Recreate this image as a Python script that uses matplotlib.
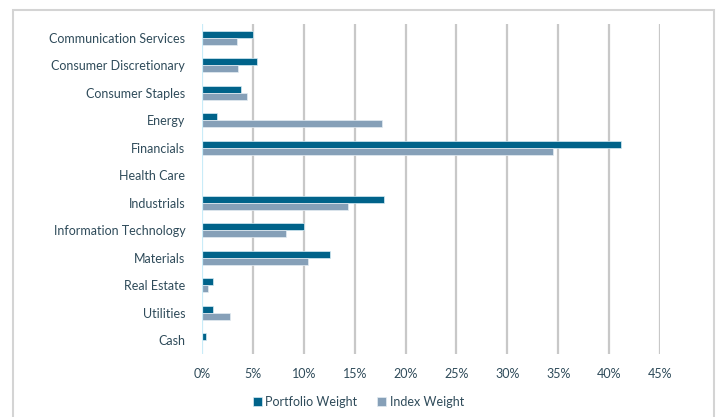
import numpy as np
import matplotlib.pyplot as plt
from matplotlib.patches import Rectangle

# Sector weights, in percent
sectors = ["Communication Services", "Consumer Discretionary", "Consumer Staples",
           "Energy", "Financials", "Health Care", "Industrials",
           "Information Technology", "Materials", "Real Estate", "Utilities", "Cash"]
portfolio = [5.0, 5.4, 3.8, 1.5, 41.2, 0.0, 17.9, 10.0, 12.6, 1.1, 1.1, 0.35]
index_w = [3.4, 3.5, 4.4, 17.7, 34.5, 0.0, 14.3, 8.3, 10.4, 0.6, 2.8, 0.0]
ticks = [0, 5, 10, 15, 20, 25, 30, 35, 40, 45]

plt.rcParams['font.family'] = ['Lato', 'DejaVu Sans']
text_col = "#2f4b5a"
c_port = "#00638a"
c_idx = "#86a0b8"

fig = plt.figure(figsize=(7.17, 4.17), dpi=100)
ax = fig.add_axes([202 / 717, 1 - 354 / 417, (660 - 202) / 717, (354 - 24) / 417])

y = np.arange(len(sectors))
h = 0.26
ax.barh(y - h / 2, portfolio, height=h, color=c_port, edgecolor="#d8ecf4", linewidth=0.5,
        label="Portfolio Weight", zorder=3)
ax.barh(y + h / 2, index_w, height=h, color=c_idx, edgecolor="#e4ecf2", linewidth=0.5,
        label="Index Weight", zorder=3)

ax.set_xlim(0, 45)
ax.set_ylim(len(sectors) - 0.5, -0.5)
ax.set_yticks(y)
ax.set_yticklabels(sectors, fontsize=9, color=text_col)
ax.set_xticks(ticks)
ax.set_xticklabels([f"{t}%" for t in ticks], fontsize=9, color=text_col)
ax.tick_params(length=0, pad=10)
ax.tick_params(axis='y', pad=12)

for t in ticks[1:]:
    ax.axvline(t, color="#c8c8c8", linewidth=1.6, zorder=1)
ax.axvline(0, color="#c9ecf8", linewidth=1.6, zorder=4)
for s in ax.spines.values():
    s.set_visible(False)

# outer frame
fig.patches.append(Rectangle((13 / 717, -0.02), (714 - 13) / 717, 1 - 10 / 417 + 0.02,
                             transform=fig.transFigure, fill=False,
                             edgecolor="#d4d4d4", linewidth=1.5))

leg = fig.legend(loc="center", bbox_to_anchor=(0.5, 1 - 402 / 417), ncol=2, frameon=False,
                 fontsize=9, handlelength=0.7, handleheight=0.7, handletextpad=0.3,
                 columnspacing=1.6)
for t in leg.get_texts():
    t.set_color(text_col)

fig.savefig("out.png", dpi=100)
